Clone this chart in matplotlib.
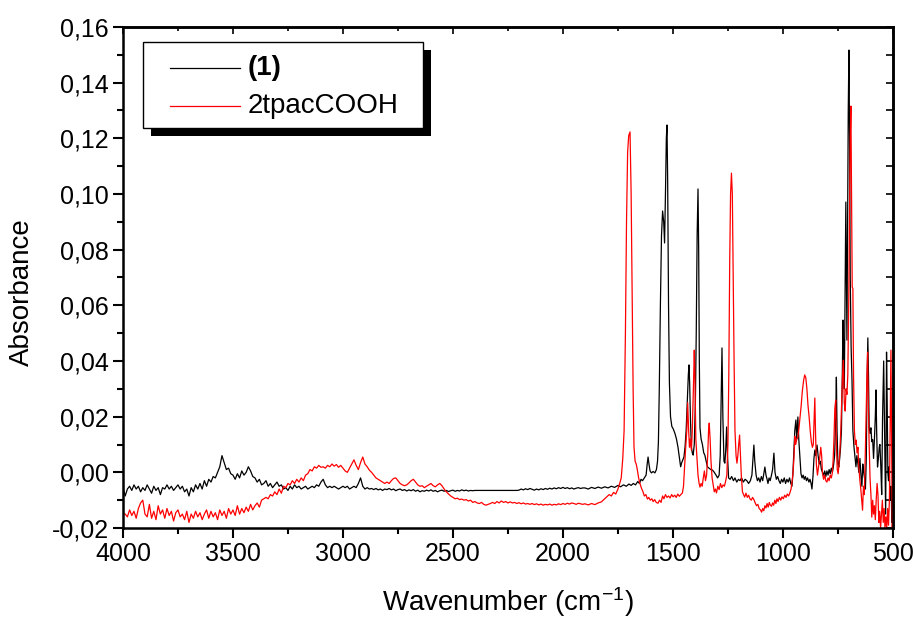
import numpy as np
import matplotlib
matplotlib.use("Agg")
import matplotlib.pyplot as plt
from matplotlib.ticker import MultipleLocator, FuncFormatter
from matplotlib.patches import Rectangle

plt.rcParams['font.family'] = ['Liberation Sans', 'DejaVu Sans']
plt.rcParams['mathtext.default'] = 'regular'

# ---- noisy part, 4000 -> 1910 cm-1, one value every 10 cm-1 ----
black_noise = [
    -0.0055, -0.0085, -0.0060, -0.0050, -0.0065, -0.0045, -0.0060, -0.0050, -0.0070, -0.0055,  # 4000
    -0.0065, -0.0045, -0.0060, -0.0075, -0.0050, -0.0065, -0.0055, -0.0080, -0.0055, -0.0060,  # 3900
    -0.0045, -0.0060, -0.0050, -0.0065, -0.0055, -0.0045, -0.0060, -0.0050, -0.0070, -0.0060,  # 3800
    -0.0085, -0.0055, -0.0070, -0.0045, -0.0060, -0.0040, -0.0060, -0.0030, -0.0050, -0.0025,  # 3700
    -0.0035, -0.0015, -0.0020, 0.0000, 0.0020, 0.0060, 0.0035, 0.0010, 0.0015, -0.0005,        # 3600
    -0.0010, -0.0025, -0.0005, -0.0020, 0.0005, -0.0010, 0.0000, 0.0020, 0.0005, -0.0015,      # 3500
    -0.0020, -0.0035, -0.0025, -0.0045, -0.0040, -0.0030, -0.0050, -0.0040, -0.0055, -0.0045,  # 3400
    -0.0035, -0.0050, -0.0045, -0.0060, -0.0055, -0.0065, -0.0050, -0.0060, -0.0045, -0.0055,  # 3300
    -0.0050, -0.0060, -0.0055, -0.0050, -0.0060, -0.0055, -0.0050, -0.0055, -0.0045, -0.0050,  # 3200
    -0.0035, -0.0025, -0.0045, -0.0055, -0.0050, -0.0055, -0.0050, -0.0055, -0.0060, -0.0055,  # 3100
    -0.0050, -0.0055, -0.0050, -0.0060, -0.0055, -0.0050, -0.0055, -0.0040, -0.0020, -0.0050,  # 3000
    -0.0060, -0.0055, -0.0060, -0.0058, -0.0062, -0.0058, -0.0063, -0.0060, -0.0065, -0.0060,  # 2900
    -0.0062, -0.0058, -0.0063, -0.0060, -0.0066, -0.0062, -0.0060, -0.0065, -0.0062, -0.0067,  # 2800
    -0.0063, -0.0066, -0.0062, -0.0068, -0.0064, -0.0070, -0.0066, -0.0068, -0.0064, -0.0067,  # 2700
    -0.0063, -0.0068, -0.0065, -0.0070, -0.0066, -0.0064, -0.0068, -0.0065, -0.0069, -0.0066,  # 2600
    -0.0064, -0.0068, -0.0065, -0.0067, -0.0063, -0.0066, -0.0064, -0.0067, -0.0065, -0.0066,  # 2500
    -0.0065, -0.0065, -0.0065, -0.0065, -0.0065, -0.0065, -0.0065, -0.0065, -0.0065, -0.0065,  # 2400
    -0.0065, -0.0065, -0.0065, -0.0065, -0.0065, -0.0065, -0.0065, -0.0065, -0.0065, -0.0065,  # 2300
    -0.0064, -0.0060, -0.0063, -0.0059, -0.0062, -0.0058, -0.0061, -0.0064, -0.0060, -0.0063,  # 2200
    -0.0059, -0.0062, -0.0058, -0.0061, -0.0057, -0.0060, -0.0056, -0.0059, -0.0055, -0.0058,  # 2100
    -0.0054, -0.0058, -0.0055, -0.0059, -0.0056, -0.0060, -0.0057, -0.0055, -0.0058, -0.0056,  # 2000
]

red_noise = [
    -0.0145, -0.0150, -0.0160, -0.0135, -0.0155, -0.0140, -0.0165, -0.0130, -0.0110, -0.0100,  # 4000
    -0.0150, -0.0160, -0.0115, -0.0165, -0.0140, -0.0170, -0.0120, -0.0150, -0.0135, -0.0165,  # 3900
    -0.0130, -0.0155, -0.0140, -0.0175, -0.0145, -0.0135, -0.0160, -0.0150, -0.0170, -0.0140,  # 3800
    -0.0180, -0.0150, -0.0165, -0.0140, -0.0160, -0.0145, -0.0170, -0.0150, -0.0135, -0.0165,  # 3700
    -0.0140, -0.0160, -0.0145, -0.0170, -0.0135, -0.0155, -0.0140, -0.0165, -0.0130, -0.0150,  # 3600
    -0.0135, -0.0155, -0.0120, -0.0150, -0.0130, -0.0145, -0.0125, -0.0140, -0.0115, -0.0135,  # 3500
    -0.0120, -0.0110, -0.0125, -0.0100, -0.0095, -0.0090, -0.0095, -0.0080, -0.0085, -0.0070,  # 3400
    -0.0080, -0.0060, -0.0075, -0.0050, -0.0055, -0.0040, -0.0045, -0.0030, -0.0040, -0.0025,  # 3300
    -0.0035, -0.0020, -0.0030, -0.0010, -0.0005, 0.0010, 0.0005, 0.0020, 0.0015, 0.0025,       # 3200
    0.0018, 0.0020, 0.0015, 0.0025, 0.0020, 0.0030, 0.0022, 0.0028, 0.0018, 0.0025,            # 3100
    0.0015, 0.0005, 0.0000, 0.0015, 0.0030, 0.0045, 0.0025, 0.0010, 0.0035, 0.0055,            # 3000
    0.0030, 0.0020, 0.0008, 0.0000, -0.0010, -0.0020, -0.0025, -0.0030, -0.0035, -0.0040,      # 2900
    -0.0035, -0.0040, -0.0030, -0.0022, -0.0020, -0.0030, -0.0040, -0.0045, -0.0048, -0.0045,  # 2800
    -0.0038, -0.0030, -0.0025, -0.0035, -0.0045, -0.0050, -0.0048, -0.0055, -0.0050, -0.0045,  # 2700
    -0.0040, -0.0048, -0.0052, -0.0045, -0.0040, -0.0048, -0.0060, -0.0070, -0.0078, -0.0085,  # 2600
    -0.0090, -0.0095, -0.0093, -0.0098, -0.0096, -0.0100, -0.0098, -0.0103, -0.0100, -0.0108,  # 2500
    -0.0105, -0.0110, -0.0112, -0.0108, -0.0115, -0.0118, -0.0115, -0.0112, -0.0108, -0.0112,  # 2400
    -0.0105, -0.0110, -0.0103, -0.0108, -0.0105, -0.0110, -0.0106, -0.0110, -0.0108, -0.0112,  # 2300
    -0.0109, -0.0113, -0.0110, -0.0114, -0.0112, -0.0115, -0.0112, -0.0116, -0.0113, -0.0117,  # 2200
    -0.0114, -0.0118, -0.0115, -0.0117, -0.0114, -0.0118, -0.0115, -0.0117, -0.0113, -0.0116,  # 2100
    -0.0112, -0.0115, -0.0111, -0.0114, -0.0110, -0.0112, -0.0115, -0.0111, -0.0113, -0.0115,  # 2000
]

# ---- fingerprint part, 1900 -> 500 cm-1, (wavenumber, absorbance) ----
black_peaks = [
    (1900, -0.0056), (1885, -0.0060), (1870, -0.0054), (1855, -0.0058), (1840, -0.0053),
    (1825, -0.0057), (1810, -0.0052), (1795, -0.0056), (1780, -0.0050), (1765, -0.0054),
    (1750, -0.0047), (1738, -0.0052), (1725, -0.0045), (1712, -0.0050), (1700, -0.0042),
    (1690, -0.0047), (1680, -0.0040), (1670, -0.0045), (1660, -0.0033), (1652, -0.0040),
    (1645, -0.0025), (1638, -0.0030), (1630, -0.0020), (1622, -0.0010), (1617, 0.0030),
    (1613, 0.0055), (1609, 0.0030), (1604, 0.0005), (1598, -0.0002), (1590, 0.0003),
    (1582, -0.0002), (1575, 0.0010), (1570, 0.0040), (1566, 0.0110), (1562, 0.0300),
    (1557, 0.0600), (1552, 0.0850), (1547, 0.0939), (1542, 0.0900), (1538, 0.0824),
    (1534, 0.1000), (1530, 0.1200), (1527, 0.1248), (1524, 0.1050), (1520, 0.0600),
    (1516, 0.0320), (1511, 0.0200), (1505, 0.0165), (1498, 0.0155), (1491, 0.0140),
    (1484, 0.0120), (1477, 0.0090), (1470, 0.0050), (1465, 0.0020), (1460, 0.0035),
    (1455, 0.0045), (1450, 0.0055), (1445, 0.0090), (1440, 0.0150), (1435, 0.0250),
    (1430, 0.0350), (1427, 0.0386), (1424, 0.0320), (1420, 0.0180), (1416, 0.0090),
    (1412, 0.0070), (1408, 0.0062), (1403, 0.0100), (1398, 0.0250), (1394, 0.0500),
    (1390, 0.0850), (1386, 0.1018), (1383, 0.0800), (1380, 0.0400), (1377, 0.0160),
    (1372, 0.0120), (1366, 0.0100), (1360, 0.0070), (1355, 0.0062), (1349, 0.0040),
    (1343, 0.0020), (1336, 0.0015), (1328, 0.0010), (1320, 0.0008), (1312, 0.0000),
    (1304, -0.0010), (1297, -0.0020), (1290, -0.0010), (1285, 0.0060), (1281, 0.0250),
    (1277, 0.0447), (1273, 0.0200), (1268, 0.0040), (1264, 0.0033), (1260, 0.0080),
    (1256, 0.0163), (1252, 0.0060), (1247, -0.0020), (1240, -0.0025), (1233, -0.0015),
    (1225, -0.0030), (1218, -0.0020), (1210, -0.0035), (1202, -0.0025), (1195, -0.0030),
    (1188, -0.0020), (1180, -0.0035), (1172, -0.0025), (1164, -0.0030), (1156, -0.0040),
    (1148, -0.0030), (1141, -0.0010), (1136, 0.0050), (1132, 0.0098), (1128, 0.0040),
    (1122, -0.0010), (1116, -0.0030), (1110, -0.0020), (1104, -0.0035), (1098, -0.0015),
    (1092, -0.0030), (1087, -0.0005), (1082, 0.0019), (1077, -0.0010), (1072, -0.0025),
    (1068, -0.0040), (1063, -0.0020), (1058, -0.0030), (1052, -0.0010), (1047, 0.0010),
    (1041, 0.0069), (1036, 0.0000), (1030, -0.0025), (1024, -0.0015), (1018, -0.0030),
    (1012, -0.0040), (1006, -0.0025), (1000, -0.0035), (994, -0.0020), (988, -0.0040),
    (982, -0.0025), (976, -0.0035), (970, -0.0020), (964, -0.0040), (959, -0.0050),
    (955, -0.0010), (950, 0.0080), (946, 0.0150), (941, 0.0188), (937, 0.0120),
    (932, 0.0199), (928, 0.0120), (923, 0.0055), (918, -0.0005), (913, -0.0020),
    (908, -0.0010), (903, -0.0025), (898, -0.0015), (893, -0.0030), (888, -0.0020),
    (882, -0.0035), (877, -0.0025), (872, -0.0040), (868, -0.0060), (863, -0.0010),
    (859, 0.0050), (855, 0.0080), (851, 0.0060), (845, 0.0098), (840, 0.0060),
    (835, 0.0030), (830, 0.0040), (825, 0.0010), (820, 0.0000), (815, -0.0010),
    (810, 0.0005), (805, -0.0015), (800, 0.0005), (795, -0.0010), (790, 0.0010),
    (785, -0.0005), (780, 0.0015), (775, 0.0000), (770, 0.0025), (765, 0.0060),
    (760, 0.0200), (757, 0.0342), (754, 0.0150), (750, 0.0030), (746, 0.0019),
    (742, 0.0050), (738, 0.0090), (734, 0.0150), (730, 0.0350), (727, 0.0547),
    (724, 0.0450), (721, 0.0300), (718, 0.0600), (714, 0.0971), (711, 0.0700),
    (709, 0.0475), (706, 0.0900), (703, 0.1300), (700, 0.1517), (697, 0.1200),
    (694, 0.0700), (690, 0.0450), (686, 0.0332), (682, 0.0150), (677, 0.0091),
    (672, 0.0050), (668, 0.0020), (664, 0.0060), (659, 0.0030), (655, 0.0000),
    (650, 0.0050), (645, -0.0015), (641, -0.0050), (637, 0.0030), (633, 0.0000),
    (629, -0.0020), (625, -0.0060), (621, 0.0050), (618, 0.0300), (614, 0.0483),
    (611, 0.0350), (608, 0.0163), (604, 0.0140), (600, 0.0160), (596, 0.0110),
    (592, 0.0117), (588, 0.0050), (584, 0.0120), (580, 0.0200), (577, 0.0296),
    (574, 0.0150), (570, 0.0019), (566, 0.0050), (562, 0.0091), (559, 0.0100),
    (555, 0.0020), (551, -0.0080), (547, 0.0200), (542, 0.0400), (538, 0.0150),
    (535, -0.0050), (533, -0.0150), (531, 0.0100), (529, 0.0432), (526, 0.0250),
    (523, 0.0000), (520, -0.0030), (517, 0.0020), (514, -0.0080), (511, -0.0100),
    (508, -0.0050), (505, -0.0180), (502, -0.0100), (500, -0.0180),
]

red_peaks = [
    (1900, -0.0113), (1885, -0.0117), (1870, -0.0112), (1855, -0.0116), (1840, -0.0110),
    (1825, -0.0106), (1810, -0.0095), (1800, -0.0088), (1790, -0.0080), (1780, -0.0085),
    (1770, -0.0072), (1760, -0.0078), (1750, -0.0060), (1742, -0.0040), (1735, -0.0020),
    (1728, 0.0050), (1722, 0.0150), (1716, 0.0500), (1711, 0.0900), (1706, 0.1150),
    (1701, 0.1210), (1695, 0.1223), (1690, 0.1000), (1686, 0.0690), (1681, 0.0300),
    (1677, 0.0091), (1672, 0.0040), (1667, 0.0030), (1662, 0.0010), (1656, -0.0020),
    (1650, -0.0040), (1643, -0.0057), (1636, -0.0070), (1630, -0.0085), (1623, -0.0080),
    (1616, -0.0096), (1610, -0.0090), (1603, -0.0100), (1596, -0.0095), (1590, -0.0105),
    (1583, -0.0098), (1576, -0.0108), (1568, -0.0111), (1561, -0.0100), (1554, -0.0108),
    (1547, -0.0085), (1541, -0.0095), (1534, -0.0080), (1527, -0.0090), (1520, -0.0085),
    (1513, -0.0092), (1506, -0.0080), (1499, -0.0088), (1492, -0.0082), (1485, -0.0090),
    (1478, -0.0078), (1471, -0.0086), (1464, -0.0080), (1457, -0.0074), (1452, -0.0050),
    (1447, 0.0020), (1442, 0.0090), (1437, 0.0150), (1433, 0.0250), (1429, 0.0160),
    (1425, 0.0090), (1421, 0.0120), (1416, 0.0080), (1412, 0.0150), (1407, 0.0300),
    (1403, 0.0439), (1400, 0.0350), (1396, 0.0120), (1391, 0.0055), (1386, -0.0010),
    (1381, -0.0040), (1377, -0.0053), (1372, -0.0040), (1367, -0.0050), (1362, -0.0020),
    (1357, 0.0005), (1352, -0.0030), (1347, -0.0010), (1342, 0.0060), (1338, 0.0150),
    (1335, 0.0177), (1331, 0.0120), (1327, 0.0040), (1322, -0.0020), (1317, -0.0045),
    (1312, -0.0070), (1307, -0.0060), (1302, -0.0074), (1296, -0.0050), (1290, -0.0062),
    (1284, -0.0040), (1278, -0.0055), (1272, -0.0045), (1266, -0.0050), (1260, -0.0030),
    (1255, -0.0010), (1250, 0.0100), (1246, 0.0350), (1242, 0.0750), (1238, 0.1000),
    (1234, 0.1075), (1230, 0.1000), (1226, 0.0700), (1222, 0.0400), (1218, 0.0150),
    (1213, 0.0060), (1209, 0.0033), (1205, 0.0060), (1201, 0.0100), (1197, 0.0134),
    (1193, 0.0060), (1189, -0.0014), (1184, -0.0070), (1179, -0.0080), (1174, -0.0089),
    (1168, -0.0075), (1162, -0.0090), (1156, -0.0082), (1150, -0.0095), (1144, -0.0100),
    (1138, -0.0090), (1132, -0.0098), (1126, -0.0110), (1120, -0.0120), (1114, -0.0115),
    (1108, -0.0130), (1102, -0.0135), (1097, -0.0143), (1092, -0.0130), (1087, -0.0138),
    (1082, -0.0120), (1077, -0.0128), (1072, -0.0112), (1067, -0.0125), (1062, -0.0108),
    (1057, -0.0118), (1052, -0.0122), (1047, -0.0110), (1042, -0.0118), (1037, -0.0100),
    (1032, -0.0112), (1027, -0.0095), (1022, -0.0105), (1016, -0.0090), (1010, -0.0100),
    (1004, -0.0088), (998, -0.0095), (992, -0.0082), (986, -0.0090), (980, -0.0078),
    (974, -0.0085), (968, -0.0073), (963, -0.0060), (958, -0.0030), (954, 0.0000),
    (950, 0.0050), (946, 0.0130), (942, 0.0100), (937, 0.0120), (932, 0.0127),
    (927, 0.0160), (922, 0.0200), (917, 0.0240), (912, 0.0290), (906, 0.0330),
    (901, 0.0350), (896, 0.0340), (891, 0.0300), (886, 0.0240), (881, 0.0200),
    (876, 0.0150), (871, 0.0110), (866, 0.0090), (862, 0.0100), (858, 0.0200),
    (855, 0.0267), (852, 0.0150), (848, 0.0030), (843, -0.0010), (838, 0.0020),
    (833, 0.0050), (828, 0.0090), (824, 0.0060), (820, -0.0005), (815, -0.0025),
    (810, -0.0010), (805, -0.0030), (800, -0.0035), (795, -0.0020), (790, -0.0030),
    (785, -0.0010), (780, -0.0020), (776, -0.0005), (772, 0.0040), (768, 0.0120),
    (764, 0.0230), (760, 0.0260), (757, 0.0100), (753, 0.0010), (749, -0.0005),
    (745, 0.0030), (741, 0.0080), (737, 0.0150), (733, 0.0250), (729, 0.0350),
    (725, 0.0403), (721, 0.0250), (717, 0.0220), (713, 0.0300), (709, 0.0280),
    (705, 0.0350), (701, 0.0600), (697, 0.0950), (694, 0.1200), (691, 0.1316),
    (688, 0.1000), (685, 0.0666), (682, 0.0660), (679, 0.0350), (675, 0.0150),
    (671, 0.0100), (667, 0.0116), (663, 0.0070), (659, 0.0090), (655, 0.0020),
    (650, -0.0030), (646, -0.0060), (642, -0.0100), (638, -0.0136), (634, -0.0050),
    (630, -0.0080), (626, 0.0050), (622, 0.0200), (618, 0.0350), (615, 0.0432),
    (612, 0.0250), (608, 0.0100), (604, -0.0020), (600, -0.0080), (596, -0.0161),
    (592, -0.0100), (588, -0.0150), (584, -0.0120), (580, -0.0170), (576, -0.0100),
    (572, -0.0040), (568, -0.0080), (564, -0.0180), (560, -0.0140), (556, -0.0200),
    (552, -0.0150), (548, -0.0100), (544, -0.0180), (540, -0.0130), (536, -0.0200),
    (532, -0.0160), (528, -0.0200), (524, -0.0130), (520, -0.0190), (516, -0.0100),
    (512, 0.0200), (509, 0.0439), (506, 0.0100), (503, -0.0200), (500, -0.0150),
]

labels = ['(1)', '2tpacCOOH']
colors = ['black', 'red']


def build(noise, peaks):
    wn_noise = 4000 - 10 * np.arange(len(noise))
    wn_pk, ab_pk = zip(*peaks)
    return (np.concatenate([wn_noise, wn_pk]),
            np.concatenate([noise, ab_pk]))


black_x, black_y = build(black_noise, black_peaks)
red_x, red_y = build(red_noise, red_peaks)

fig = plt.figure(figsize=(9.13, 6.19), dpi=100)
ax = fig.add_axes([0.1347, 0.147, 0.8433, 0.8094])

ax.plot(black_x, black_y, color=colors[0], lw=0.9)
ax.plot(red_x, red_y, color=colors[1], lw=0.9)

ax.set_xlim(4000, 500)
ax.set_ylim(-0.02, 0.16)

ax.xaxis.set_major_locator(MultipleLocator(500))
ax.xaxis.set_minor_locator(MultipleLocator(250))
ax.yaxis.set_major_locator(MultipleLocator(0.02))
ax.yaxis.set_minor_locator(MultipleLocator(0.01))
ax.xaxis.set_major_formatter(FuncFormatter(lambda v, p: f"{int(round(v))}"))
ax.yaxis.set_major_formatter(
    FuncFormatter(lambda v, p: f"{round(v, 2) + 0.0:.2f}".replace('.', ',')))

for s in ax.spines.values():
    s.set_linewidth(1.8)

ax.tick_params(which='both', direction='out', top=False, right=False,
               width=1.5, labelsize=18, pad=3)
ax.tick_params(which='major', length=7)
ax.tick_params(which='minor', length=4)

# inward ticks on top and right like the original software
ax_t = ax.secondary_xaxis('top')
ax_t.xaxis.set_major_locator(MultipleLocator(500))
ax_t.xaxis.set_minor_locator(MultipleLocator(250))
ax_t.tick_params(which='both', direction='in', labeltop=False, width=1.2)
ax_t.tick_params(which='major', length=5)
ax_t.tick_params(which='minor', length=3)
ax_t.spines['top'].set_linewidth(1.8)
ax_r = ax.secondary_yaxis('right')
ax_r.yaxis.set_major_locator(MultipleLocator(0.02))
ax_r.yaxis.set_minor_locator(MultipleLocator(0.01))
ax_r.tick_params(which='both', direction='in', labelright=False, width=1.2)
ax_r.tick_params(which='major', length=5)
ax_r.tick_params(which='minor', length=5)
ax_r.spines['right'].set_linewidth(1.8)

ax.set_xlabel('Wavenumber (cm$^{-1}$)', fontsize=20, labelpad=14)
ax.set_ylabel('Absorbance', fontsize=20)
ax.yaxis.set_label_coords(-0.114, 0.471)

# legend box drawn by hand (square box with a solid offset shadow)
box_x0, box_y0, box_w, box_h = 0.026, 0.7984, 0.364, 0.1717
ax.add_patch(Rectangle((box_x0 + 0.0104, box_y0 - 0.016), box_w, box_h,
                       transform=ax.transAxes, facecolor='black',
                       edgecolor='none', zorder=5))
ax.add_patch(Rectangle((box_x0, box_y0), box_w, box_h,
                       transform=ax.transAxes, facecolor='white',
                       edgecolor='black', lw=1.0, zorder=6))
row_y = [0.9182, 0.8423]
weights = ['bold', 'normal']
for lab, col, yy, wt in zip(labels, colors, row_y, weights):
    ax.plot([0.061, 0.152], [yy, yy], color=col, lw=0.9,
            transform=ax.transAxes, zorder=7)
    ax.text(0.1623, yy, lab, transform=ax.transAxes, fontsize=20,
            fontweight=wt, va='center', ha='left', zorder=7)

fig.savefig('out.png', dpi=100)
